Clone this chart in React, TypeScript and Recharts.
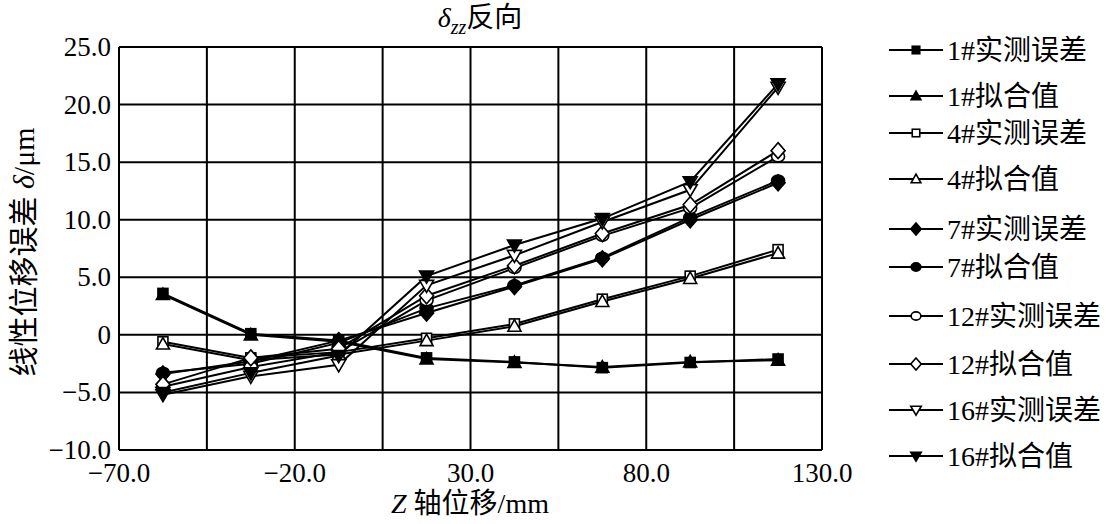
import { LineChart, Line, XAxis, YAxis, CartesianGrid, Legend } from 'recharts';

const zPos = [-57.5, -32.5, -7.5, 17.5, 42.5, 67.5, 92.5, 117.5];

const s1Meas = [3.6, 0.1, -0.5, -2.0, -2.35, -2.85, -2.4, -2.1];
const s1Fit = [3.5, 0.0, -0.6, -2.1, -2.4, -2.8, -2.35, -2.2];
const s4Meas = [-0.6, -2.0, -1.5, -0.3, 0.95, 3.1, 5.1, 7.4];
const s4Fit = [-0.8, -2.2, -1.7, -0.5, 0.75, 2.9, 4.9, 7.1];
const s7Meas = [-3.4, -2.3, -0.5, 1.9, 4.2, 6.6, 10.0, 13.2];
const s7Fit = [-3.3, -2.5, -0.7, 2.3, 4.3, 6.7, 10.2, 13.4];
const s12Meas = [-4.5, -2.8, -1.5, 3.0, 5.8, 8.6, 11.0, 15.5];
const s12Fit = [-4.3, -2.0, -1.2, 3.4, 6.0, 8.8, 11.3, 16.0];
const s16Meas = [-5.2, -3.6, -2.6, 4.3, 6.9, 9.8, 12.6, 21.5];
const s16Fit = [-5.0, -3.3, -1.8, 5.1, 7.8, 10.1, 13.3, 21.8];

const xTicks = [-70, -45, -20, 5, 30, 55, 80, 105, 130];
const xLabelled = [-70, -20, 30, 80, 130];
const yTicks = [-10, -5, 0, 5, 10, 15, 20, 25];

type Shape = 'square' | 'triangle' | 'diamond' | 'circle' | 'down';

const seriesDefs: { key: string; name: string; values: number[]; shape: Shape; filled: boolean }[] = [
  { key: 's1m', name: '1#实测误差', values: s1Meas, shape: 'square', filled: true },
  { key: 's1f', name: '1#拟合值', values: s1Fit, shape: 'triangle', filled: true },
  { key: 's4m', name: '4#实测误差', values: s4Meas, shape: 'square', filled: false },
  { key: 's4f', name: '4#拟合值', values: s4Fit, shape: 'triangle', filled: false },
  { key: 's7m', name: '7#实测误差', values: s7Meas, shape: 'diamond', filled: true },
  { key: 's7f', name: '7#拟合值', values: s7Fit, shape: 'circle', filled: true },
  { key: 's12m', name: '12#实测误差', values: s12Meas, shape: 'circle', filled: false },
  { key: 's12f', name: '12#拟合值', values: s12Fit, shape: 'diamond', filled: false },
  { key: 's16m', name: '16#实测误差', values: s16Meas, shape: 'down', filled: false },
  { key: 's16f', name: '16#拟合值', values: s16Fit, shape: 'down', filled: true },
];

const data = zPos.map((z, i) => {
  const row: Record<string, number> = { z };
  seriesDefs.forEach(s => { row[s.key] = s.values[i]; });
  return row;
});

const serif = '"Liberation Serif", "Times New Roman", "Noto Sans CJK SC", serif';
const cjk = '"Liberation Serif", "Noto Sans CJK SC", serif';
const fmt = (v: number) => (v === 0 ? '0' : (v < 0 ? '\u2212' : '') + Math.abs(v).toFixed(1));

function marker(shape: Shape, filled: boolean, cx: number, cy: number, k: number) {
  const fill = filled ? '#000' : '#fff';
  const sw = 1.6;
  switch (shape) {
    case 'square':
      return <rect x={cx - 5 * k} y={cy - 5 * k} width={10 * k} height={10 * k} fill={fill} stroke="#000" strokeWidth={sw} />;
    case 'triangle':
      return <polygon points={`${cx},${cy - 6.5 * k} ${cx + 6.5 * k},${cy + 5 * k} ${cx - 6.5 * k},${cy + 5 * k}`} fill={fill} stroke="#000" strokeWidth={sw} />;
    case 'down':
      return <polygon points={`${cx - 7 * k},${cy - 5 * k} ${cx + 7 * k},${cy - 5 * k} ${cx},${cy + 7 * k}`} fill={fill} stroke="#000" strokeWidth={sw} />;
    case 'diamond':
      return <polygon points={`${cx},${cy - 8 * k} ${cx + 7 * k},${cy} ${cx},${cy + 8 * k} ${cx - 7 * k},${cy}`} fill={fill} stroke="#000" strokeWidth={sw} />;
    default:
      return <ellipse cx={cx} cy={cy} rx={6.5 * k} ry={5.5 * k} fill={fill} stroke="#000" strokeWidth={sw} />;
  }
}

const makeDot = (shape: Shape, filled: boolean) => (props: any) => {
  const { cx, cy, index } = props;
  if (cx == null || cy == null) return <g key={index} />;
  return <g key={index}>{marker(shape, filled, cx, cy, 1)}</g>;
};

const legendRows = [50, 96, 133, 179, 229, 267, 316, 364, 410, 456];

const renderLegend = () => (
  <svg width={234} height={490} style={{ display: 'block' }}>
    {seriesDefs.map((s, i) => {
      const y = legendRows[i] - 20;
      return (
        <g key={s.key}>
          <line x1={4} x2={58} y1={y} y2={y} stroke="#000" strokeWidth={2} />
          {marker(s.shape, s.filled, 31, y, 0.75)}
          <text x={62} y={y + 10} fontSize={28} fontFamily={cjk} fill="#000">{s.name}</text>
        </g>
      );
    })}
  </svg>
);

const XTick = (props: any) => {
  const { x, y, payload } = props;
  if (!xLabelled.includes(payload.value)) return <g />;
  return (
    <text x={x} y={y + 24} textAnchor="middle" fontSize={27} fontFamily={serif} fill="#000">
      {fmt(payload.value)}
    </text>
  );
};

const YTick = (props: any) => {
  const { x, y, payload } = props;
  return (
    <text x={x} y={y + 9} textAnchor="end" fontSize={27} fontFamily={serif} fill="#000">
      {fmt(payload.value)}
    </text>
  );
};

export default function App() {
  return (
    <div style={{ position: 'absolute', left: 0, top: 0, width: 1119, height: 524, background: '#fff' }}>
      <LineChart
        width={1119}
        height={524}
        data={data}
        margin={{ top: 47, right: 63, bottom: 34, left: 59 }}
      >
        <CartesianGrid stroke="#000" strokeWidth={2} horizontalValues={yTicks} verticalValues={xTicks} />
        <XAxis
          dataKey="z"
          type="number"
          domain={[-70, 130]}
          ticks={xTicks}
          interval={0}
          height={40}
          tickLine={false}
          axisLine={{ stroke: '#000', strokeWidth: 2 }}
          tick={<XTick />}
        />
        <YAxis
          type="number"
          domain={[-10, 25]}
          ticks={yTicks}
          interval={0}
          width={60}
          tickLine={false}
          axisLine={{ stroke: '#000', strokeWidth: 2 }}
          tick={<YTick />}
          tickMargin={2}
        />
        <Legend
          content={renderLegend}
          layout="vertical"
          verticalAlign="top"
          align="right"
          wrapperStyle={{ position: 'absolute', left: 885, top: 20, width: 234 }}
        />
        {seriesDefs.map(s => (
          <Line
            key={s.key}
            dataKey={s.key}
            name={s.name}
            stroke="#000"
            strokeWidth={2}
            dot={makeDot(s.shape, s.filled)}
            activeDot={false}
            isAnimationActive={false}
            type="linear"
          />
        ))}
      </LineChart>
      <div style={{ position: 'absolute', left: 0, top: 0, width: 960, textAlign: 'center', fontFamily: cjk, fontSize: 28, lineHeight: '36px' }}>
        <i>δ</i><sub style={{ fontSize: 20, fontStyle: 'italic' }}>zz</sub>反向
      </div>
      <div style={{ position: 'absolute', left: 0, top: 486, width: 940, textAlign: 'center', fontFamily: cjk, fontSize: 28, lineHeight: '36px' }}>
        <i>Z</i> 轴位移/mm
      </div>
      <div
        style={{
          position: 'absolute', left: 24, top: 252, whiteSpace: 'nowrap',
          transform: 'translate(-50%, -50%) rotate(-90deg)',
          fontFamily: cjk, fontSize: 30, lineHeight: '32px',
        }}
      >
        线性位移误差 <i>δ</i>/μm
      </div>
    </div>
  );
}
